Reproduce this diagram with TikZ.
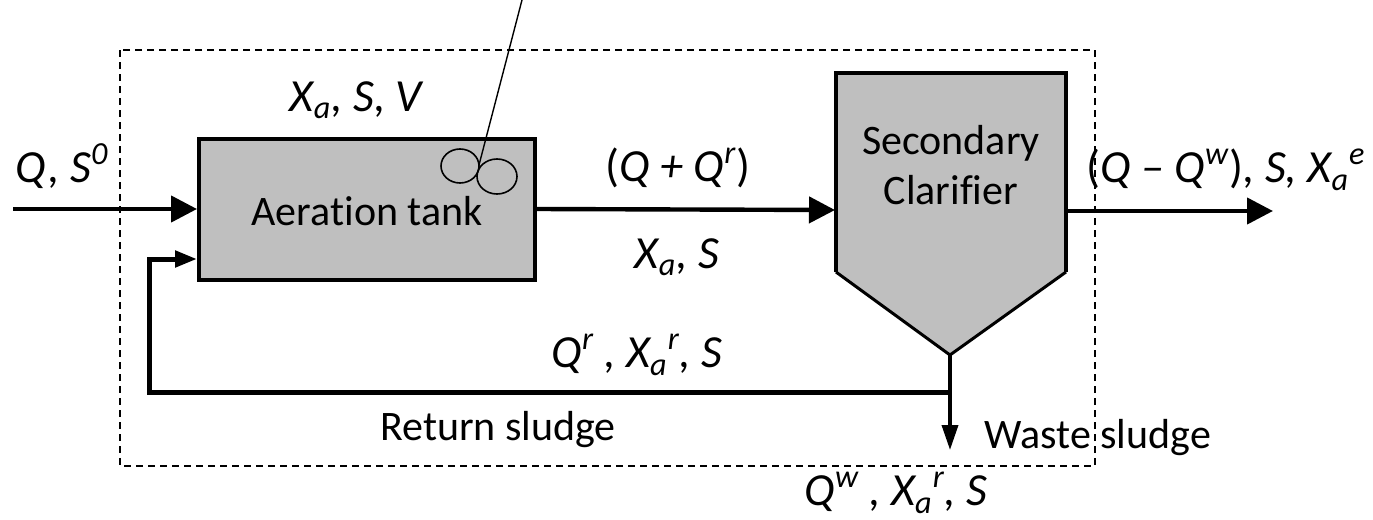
\documentclass[tikz,border=0pt]{standalone}
\usepackage{fontspec}
\setmainfont{Carlito}[Ligatures=NoCommon]
\usetikzlibrary{arrows.meta,shapes.geometric}

\tikzset{
  lbl/.style={font=\fontsize{21}{25}\selectfont, inner sep=0pt},
  var/.style={lbl, font=\fontsize{23}{27}\selectfont\itshape},
  unit/.style={draw=black, line width=2pt, fill=black!25},
  flow/.style={line width=2.2pt, -{Triangle[length=13pt,width=13pt]}},
  retflow/.style={line width=2.5pt, -{Triangle[length=11pt,width=8pt]}},
  wasteflow/.style={line width=1.8pt, -{Triangle[length=12.5pt,width=8pt]}},
  bubble/.style={ellipse, draw=black, line width=0.8pt, inner sep=0pt},
}

\begin{document}
\begin{tikzpicture}[x=0.5pt,y=-0.5pt]
  \useasboundingbox (0,0) rectangle (1373,520);

  % control volume
  \draw[line width=0.7pt, dash pattern=on 3.5pt off 2.5pt] (120,50) rectangle (1095,466);

  % aeration tank with diffusers
  \node[unit, lbl, text height=17pt, minimum width=168pt, minimum height=70.5pt] (tank) at (367,209) {Aeration tank};
  \node[bubble, minimum width=19pt, minimum height=17pt] (bub1) at (460,166) {};
  \node[bubble, minimum width=20pt, minimum height=17.5pt] (bub2) at (497,176.5) {};
  \coordinate (air) at (522,0);
  \coordinate (mix) at (479,165);
  \draw[line width=0.7pt] (air) -- (mix);

  % secondary clarifier
  \coordinate (clar-nw) at (836,73);
  \coordinate (clar-ne) at (1066,73);
  \coordinate (clar-se) at (1066,272);
  \coordinate (clar-sw) at (836,272);
  \coordinate (clar-bot) at (950,355);
  \fill[black!25] (clar-sw) -- (clar-nw) -- (clar-ne) -- (clar-se) -- (clar-bot) -- cycle;
  \draw[line width=2.4pt, line join=miter] (clar-sw) -- (clar-nw) -- (clar-ne) -- (clar-se);
  \draw[line width=1.5pt, line join=miter] (clar-se) -- (clar-bot) -- (clar-sw);
  \node[lbl, align=center] (clar) at (951,165) {Secondary\\Clarifier};
  \coordinate (clar-in) at (835,210);
  \coordinate (clar-out) at (1067,211);

  % streams
  \coordinate (feed) at (13,209);
  \coordinate (effluent) at (1273,211);
  \coordinate (split) at (950,392.5);
  \coordinate (waste) at (950,450);
  \coordinate (ret-corner) at (149.5,392.5);
  \coordinate (ret-in) at (197,259);
  \draw[flow] (feed) -- (tank.west);
  \draw[flow] (tank.east) -- (clar-in);
  \draw[flow] (clar-out) -- (effluent);
  \draw[wasteflow] (clar-bot) -- (waste);
  \draw[retflow] (split) -- (ret-corner) |- (ret-in);

  % labels
  \node[var] (l-feed) at (62,166) {Q, S\textsuperscript{0}};
  \node[var] (l-tank) at (356,100) {X\textsubscript{a}, S, V};
  \node[var] (l-mixed) at (678,168) {\textup{(}Q + Q\textsuperscript{r}\textup{)}};
  \node[var] (l-conc) at (677,257) {X\textsubscript{a}, S};
  \node[var, anchor=west] (l-eff) at (1086,170) {\textup{(}Q – Q\textsuperscript{w}\textup{)}, S, X\textsubscript{a}\textsuperscript{e}};
  \node[var] (l-ret) at (637,355) {Q\textsuperscript{r} , X\textsubscript{a}\textsuperscript{r}, S};
  \node[lbl] (l-return) at (498,430) {Return sludge};
  \node[lbl, anchor=west] (l-waste) at (984,438) {Waste sludge};
  \node[var] (l-wst) at (896,493) {Q\textsuperscript{w} , X\textsubscript{a}\textsuperscript{r}, S};
\end{tikzpicture}
\end{document}
